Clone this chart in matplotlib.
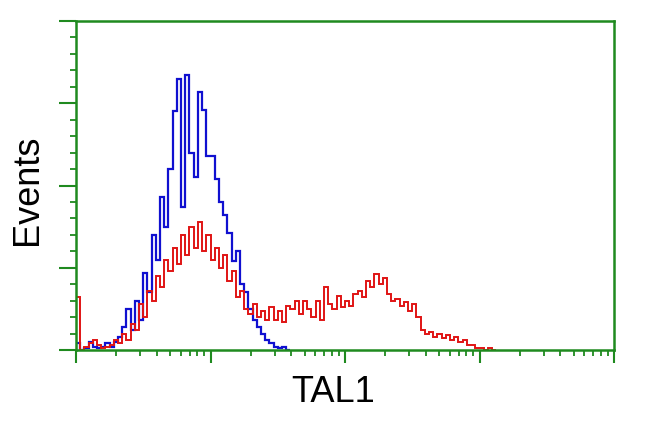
import numpy as np
import matplotlib
matplotlib.use("Agg")
import matplotlib.pyplot as plt
from matplotlib.ticker import LogLocator, MultipleLocator, NullFormatter

# channels: 32 per decade, starting at 10^0
ch_per_decade = 32

# control (blue) counts per channel
blue = [4, 0, 1, 5, 2, 1, 2, 4, 2, 5,
        8, 14, 25, 12, 30, 18, 47, 35, 70, 55,
        93, 75, 110, 145, 165, 87, 167, 120, 105, 157,
        146, 118, 118, 104, 90, 82, 71, 54, 60, 40,
        35, 25, 18, 14, 10, 6, 4, 2, 1, 2, 0]

# TAL1 stained (red) counts per channel
red = [32, 0, 2, 4, 6, 3, 1, 2, 3, 6,
       4, 10, 6, 16, 12, 28, 20, 36, 30, 45,
       38, 55, 48, 62, 52, 70, 58, 75, 62, 78,
       60, 70, 55, 62, 50, 58, 42, 48, 32, 36,
       25, 22, 28, 20, 24, 18, 26, 18, 24, 17,
       27, 25, 30, 22, 30, 25, 20, 30, 18, 38,
       28, 25, 33, 26, 30, 27, 34, 36, 32, 42,
       38, 46, 40, 44, 34, 30, 31, 27, 29, 24,
       28, 20, 12, 10, 11, 8, 10, 7, 9, 6,
       8, 5, 6, 3, 3, 1, 1, 0, 1, 0]

green = "#1f8a1f"

fig = plt.figure(figsize=(6.5, 4.32), dpi=100)
ax = fig.add_axes([76/650, 1-350/432, 538/650, 329/432])

def edges(n):
    return 10 ** (np.arange(n + 1) / ch_per_decade)

ax.stairs(blue, edges(len(blue)), color="#1010d0", lw=1.6)
ax.stairs(red, edges(len(red)), color="#e01414", lw=1.4)

ax.set_xscale("log")
ax.set_xlim(1, 1e4)
ax.set_ylim(0, 200)

ax.xaxis.set_major_locator(LogLocator(base=10, numticks=10))
ax.xaxis.set_minor_locator(LogLocator(base=10, subs=np.arange(2, 10), numticks=10))
ax.xaxis.set_major_formatter(NullFormatter())
ax.xaxis.set_minor_formatter(NullFormatter())
ax.yaxis.set_major_locator(MultipleLocator(50))
ax.yaxis.set_minor_locator(MultipleLocator(10))
ax.yaxis.set_major_formatter(NullFormatter())

ax.tick_params(which="major", direction="out", length=9, width=1.5, color=green)
ax.tick_params(which="minor", direction="out", length=4, width=1.3, color=green)
ax.tick_params(axis="y", which="major", length=12)

for s in ax.spines.values():
    s.set_color(green)
    s.set_linewidth(1.8)

fig.text(28/650, 1-190/432, "Events", rotation=90, ha="center", va="center",
         fontsize=26, family="Liberation Sans")
fig.text(333/650, 1-392/432, "TAL1", ha="center", va="center",
         fontsize=26, family="Liberation Sans")

fig.savefig("out.png", dpi=100)
